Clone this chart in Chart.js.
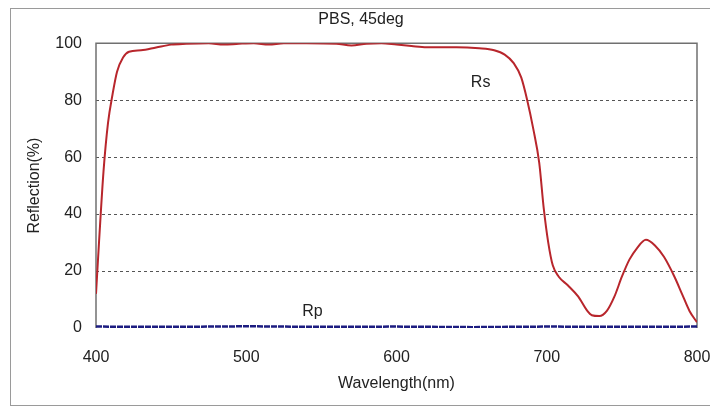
<!DOCTYPE html>
<html>
<head>
<meta charset="utf-8">
<script src="https://cdn.jsdelivr.net/npm/chart.js@4/dist/chart.umd.min.js"></script>
<style>
  html, body { margin: 0; padding: 0; background: #fff; }
  #wrap { width: 710px; height: 409px; }
</style>
</head>
<body>
<div id="wrap"><canvas id="pbsChart" width="710" height="409"></canvas></div>
<script>
// reflection data
var wavelengths = [400, 402, 405, 408, 411, 414, 418, 422, 430, 440, 450, 460, 475, 485, 495, 505, 515, 525, 540, 560, 570, 580, 590, 600, 610, 620, 640, 655, 665, 672, 678, 683, 687, 691, 695, 698, 701, 704, 708, 714, 721, 727, 730, 735, 740, 745, 750, 755, 760, 766, 772, 778, 785, 790, 795, 800];
var rsValues = [12, 30, 55, 72, 82, 90, 95, 97, 97.5, 98.5, 99.5, 99.8, 100, 99.5, 99.8, 100, 99.5, 100, 100, 99.8, 99.2, 99.8, 100, 99.5, 99, 98.6, 98.6, 98.2, 97.5, 96, 93, 88, 80, 70, 58, 42, 30, 22, 18, 15, 11, 6, 4.5, 4.2, 6, 11, 18, 24, 28, 31, 29, 25, 18, 12, 6, 2];
var rpWavelengths = [400, 450, 500, 550, 600, 650, 700, 750, 800];
var rpValues = [0.5, 0.4, 0.6, 0.4, 0.5, 0.3, 0.5, 0.4, 0.5];
var xTicks = [400, 500, 600, 700, 800];
var yTicks = [0, 20, 40, 60, 80, 100];

// curve labels placed in data coordinates
var curveLabels = [
    { text: 'Rs', x: 656, y: 86 },
    { text: 'Rp', x: 544, y: 5.6 }
];

function toPoints(xs, ys) {
    return xs.map(function (x, i) { return { x: x, y: ys[i] }; });
}

var FONT = "'Liberation Sans', Arial, sans-serif";

// outer frame + plot border + curve labels
var framePlugin = {
    id: 'frame',
    beforeDraw: function (chart) {
        var c = chart.ctx;
        c.save();
        c.fillStyle = '#fff';
        c.fillRect(0, 0, chart.width, chart.height);
        c.strokeStyle = '#9a9a9a';
        c.lineWidth = 1;
        c.strokeRect(10.5, 8.5, 710, 397);
        c.restore();
    },
    beforeDatasetsDraw: function (chart) {
        var a = chart.chartArea, c = chart.ctx;
        c.save();
        c.strokeStyle = '#707070';
        c.lineWidth = 1.5;
        c.beginPath();
        c.moveTo(a.left, a.bottom);
        c.lineTo(a.left, a.top);
        c.lineTo(a.right, a.top);
        c.lineTo(a.right, a.bottom);
        c.stroke();
        c.restore();
    },
    afterDatasetsDraw: function (chart) {
        var c = chart.ctx, xs = chart.scales.x, ys = chart.scales.y;
        c.save();
        c.font = '16px ' + FONT;
        c.fillStyle = '#222';
        c.textAlign = 'center';
        c.textBaseline = 'middle';
        curveLabels.forEach(function (l) {
            c.fillText(l.text, xs.getPixelForValue(l.x), ys.getPixelForValue(l.y));
        });
        c.restore();
    }
};

var ctx = document.getElementById('pbsChart').getContext('2d');
var chart = new Chart(ctx, {
    type: 'line',
    data: {
        datasets: [{
            label: 'Rs',
            data: toPoints(wavelengths, rsValues),
            borderColor: '#b8262c',
            borderWidth: 2,
            pointRadius: 0,
            cubicInterpolationMode: 'monotone',
            fill: false
        }, {
            label: 'Rp',
            data: toPoints(rpWavelengths, rpValues),
            borderColor: '#1c1c80',
            borderWidth: 2.5,
            borderDash: [6, 1],
            pointRadius: 0,
            fill: false
        }]
    },
    options: {
        responsive: false,
        animation: false,
        layout: { padding: { left: 12, right: 0, top: 0, bottom: 0 } },
        plugins: {
            legend: { display: false },
            tooltip: { enabled: false },
            title: {
                display: true,
                text: 'PBS, 45deg',
                color: '#222',
                font: { family: FONT, size: 16, weight: 'normal' },
                padding: { top: 10, bottom: 14 }
            }
        },
        scales: {
            x: {
                type: 'linear',
                min: 400,
                max: 800,
                afterBuildTicks: function (s) { s.ticks = xTicks.map(function (v) { return { value: v }; }); },
                afterFit: function (s) {
                    s.height = 81;
                    s.paddingLeft = 0;
                    s.paddingRight = 13;
                },
                grid: { display: false, drawTicks: false },
                border: { display: false },
                ticks: {
                    color: '#222',
                    padding: 20,
                    maxRotation: 0,
                    font: { family: FONT, size: 16 }
                },
                title: {
                    display: true,
                    text: 'Wavelength(nm)',
                    color: '#222',
                    font: { family: FONT, size: 16 },
                    padding: { top: 0, bottom: 16 }
                }
            },
            y: {
                min: 0,
                max: 100,
                afterBuildTicks: function (s) { s.ticks = yTicks.map(function (v) { return { value: v }; }); },
                afterFit: function (s) {
                    s.width = 84;
                    s.paddingTop = 0;
                    s.paddingBottom = 0;
                },
                grid: {
                    drawTicks: false,
                    color: function (c) {
                        var v = c.tick ? c.tick.value : 0;
                        return (v === 0 || v === 100) ? 'rgba(0,0,0,0)' : '#555';
                    },
                    lineWidth: 1
                },
                border: { display: false, dash: [3, 3] },
                ticks: {
                    color: '#222',
                    padding: 14,
                    font: { family: FONT, size: 16 }
                },
                title: {
                    display: true,
                    text: 'Reflection(%)',
                    color: '#222',
                    font: { family: FONT, size: 16 },
                    padding: { top: 13, bottom: 0 }
                }
            }
        }
    },
    plugins: [framePlugin]
});
</script>
</body>
</html>
